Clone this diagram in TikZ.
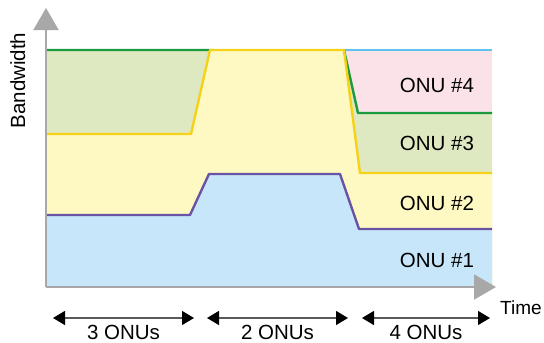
\documentclass[tikz,border=0pt]{standalone}
\usepackage{fontspec}
\setmainfont{Liberation Sans}
\usetikzlibrary{arrows.meta}
\definecolor{onuone}{HTML}{C8E6F9}
\definecolor{onutwo}{HTML}{FEF8C2}
\definecolor{onuthree}{HTML}{DEE9C2}
\definecolor{onufour}{HTML}{FAE2E8}
\definecolor{lpurple}{HTML}{6A53A5}
\definecolor{lyellow}{HTML}{F6D11A}
\definecolor{lgreen}{HTML}{1C9A3E}
\definecolor{topblue}{HTML}{5BC3EE}
\definecolor{axisgrey}{HTML}{A8A8A8}
\definecolor{spangrey}{HTML}{5A5A5A}
\tikzset{
  axis/.style={draw=axisgrey, line width=2pt, -{Triangle[length=22pt,width=25pt]}},
  span/.style={draw=spangrey, line width=1.2pt,
    {Triangle[length=12pt,width=14pt,color=black,fill=black]}-{Triangle[length=12pt,width=14pt,color=black,fill=black]}},
  bwline/.style={line width=2.4pt, line join=round},
  lbl/.style={font=\fontsize{20.5}{24}\selectfont}
}
\begin{document}
\begin{tikzpicture}[x=1pt,y=-1pt]
\useasboundingbox (0,0) rectangle (544,343);
% bandwidth shares
\fill[onufour] (46,50) rectangle (492,287);
\fill[onuthree] (46,50) -- (344,50) -- (358,113) -- (492,113) -- (492,287) -- (46,287) -- cycle;
\fill[onutwo] (46,134) -- (191,134) -- (210,50) -- (344,50) -- (360,173) -- (492,173) -- (492,287) -- (46,287) -- cycle;
\fill[onuone] (46,215) -- (190,215) -- (209,174) -- (340,174) -- (359,229) -- (492,229) -- (492,287) -- (46,287) -- cycle;
\draw[bwline, topblue] (344,50) -- (492,50);
\draw[bwline, lgreen] (46,50) -- (210,50) (344,50) -- (358,113) -- (492,113);
\draw[bwline, lyellow] (46,134) -- (191,134) -- (210,50) -- (344,50) -- (360,173) -- (492,173);
\draw[bwline, lpurple] (46,215) -- (190,215) -- (209,174) -- (340,174) -- (359,229) -- (492,229);
% axes
\coordinate (o) at (46,287);
\coordinate (ytop) at (46,8);
\coordinate (xend) at (496,287);
\draw[axis] (o) -- (ytop);
\draw[axis] (o) -- (xend);
\node[lbl, rotate=90, anchor=base] (bw) at (25,80.5) {Bandwidth};
\node[font=\fontsize{19}{22}\selectfont, anchor=base west, inner sep=0pt] (time) at (500,314) {Time};
\foreach \k/\y in {1/260,2/203,3/143,4/85}
  \node[lbl] (onu\k) at (437,\y) {ONU \#\k};
% time spans
\foreach \n/\a/\b in {3/53/194,2/207/348,4/362/490}{
  \coordinate (l\n) at (\a,318);
  \coordinate (r\n) at (\b,318);
  \draw[span] (l\n) -- (r\n) node[lbl, midway, anchor=base, yshift=-21pt] (n\n) {\n\ ONUs};
}
\end{tikzpicture}
\end{document}
